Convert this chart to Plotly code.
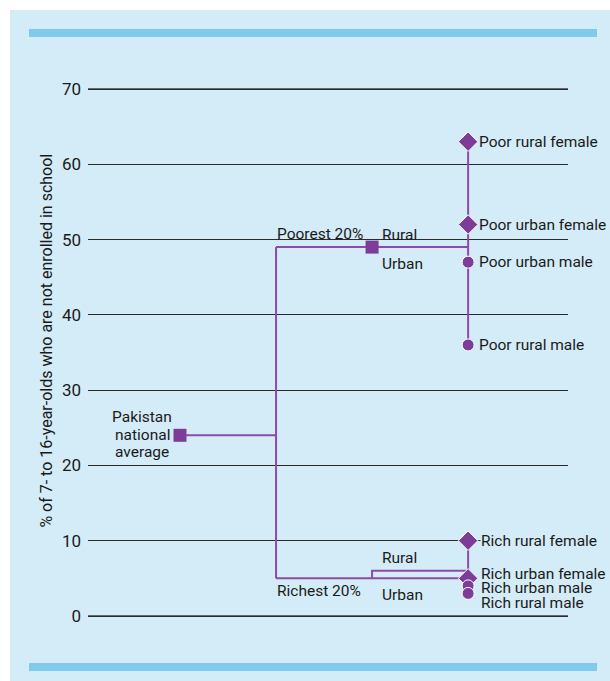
import plotly.graph_objects as go

# ---- data ----
national_label_lines = ["Pakistan", "national", "average"]
national_value = 24
quintile_labels = ["Poorest 20%", "Richest 20%"]
quintile_values = [49, 5]
location_labels = ["Rural", "Urban"]
poor_location_values = [49, 49]
rich_location_values = [6, 5]
poor_group_labels = ["Poor rural female", "Poor urban female", "Poor urban male", "Poor rural male"]
poor_group_values = [63, 52, 47, 36]
rich_group_labels = ["Rich rural female", "Rich urban female", "Rich urban male", "Rich rural male"]
rich_group_values = [10, 5, 4, 3]
group_symbols = ["diamond", "diamond", "circle", "circle"]
y_ticks = [0, 10, 20, 30, 40, 50, 60, 70]

# stage positions on x axis
X_NAT, X_SPLIT, X_Q, X_G = 0, 1, 2, 3

LINE = "#8e4aa8"
MARK = "#7d3c98"
BG = "#d4ecf7"
BAR = "#7fcbeb"
FONT = "Roboto, sans-serif"

fig = go.Figure()

def seg(xs, ys):
    fig.add_trace(go.Scatter(x=xs, y=ys, mode="lines", line=dict(color=LINE, width=2),
                             hoverinfo="skip", showlegend=False))

# national -> split
seg([X_NAT, X_SPLIT], [national_value, national_value])
seg([X_SPLIT, X_SPLIT], [quintile_values[1], quintile_values[0]])
# poorest
seg([X_SPLIT, X_G], [poor_location_values[0], poor_location_values[0]])
seg([X_Q, X_G], [poor_location_values[1], poor_location_values[1]])
# richest
seg([X_SPLIT, X_Q, X_G], [rich_location_values[1], rich_location_values[1], rich_location_values[1]])
seg([X_Q, X_Q, X_G], [quintile_values[1], rich_location_values[0], rich_location_values[0]])
# group verticals
seg([X_G, X_G], [min(poor_group_values), max(poor_group_values)])
seg([X_G, X_G], [min(rich_group_values), max(rich_group_values)])

# squares
fig.add_trace(go.Scatter(x=[X_NAT, X_Q], y=[national_value, quintile_values[0]], mode="markers",
                         marker=dict(symbol="square", size=13, color=MARK, opacity=1),
                         hoverinfo="skip", showlegend=False))
# group markers
for vals in (poor_group_values, rich_group_values):
    fig.add_trace(go.Scatter(x=[X_G] * len(vals), y=vals, mode="markers",
                             marker=dict(symbol=group_symbols, size=[15, 15, 12, 12], color=MARK, opacity=1),
                             hoverinfo="skip", showlegend=False))

ann = []
fs = 15.5
for i, line in enumerate(national_label_lines):
    ann.append(dict(x=X_NAT, y=national_value, text=line, showarrow=False, xanchor="center",
                    xshift=-38, yshift=18 - 17.5 * i, font=dict(size=fs)))
ann.append(dict(x=X_SPLIT, y=quintile_values[0], text=quintile_labels[0], showarrow=False,
                xanchor="left", yanchor="bottom", yshift=2, xshift=-1, font=dict(size=fs)))
ann.append(dict(x=X_SPLIT, y=quintile_values[1], text=quintile_labels[1], showarrow=False,
                xanchor="left", yanchor="top", yshift=-2, xshift=-1, font=dict(size=fs)))
ann.append(dict(x=X_Q, y=poor_location_values[0], text=location_labels[0], showarrow=False,
                xanchor="left", yanchor="bottom", xshift=8, yshift=1, font=dict(size=fs)))
ann.append(dict(x=X_Q, y=poor_location_values[1], text=location_labels[1], showarrow=False,
                xanchor="left", yanchor="top", xshift=8, yshift=-6, font=dict(size=fs)))
ann.append(dict(x=X_Q, y=rich_location_values[0], text=location_labels[0], showarrow=False,
                xanchor="left", yanchor="bottom", xshift=8, yshift=2, font=dict(size=fs)))
ann.append(dict(x=X_Q, y=rich_location_values[1], text=location_labels[1], showarrow=False,
                xanchor="left", yanchor="top", xshift=8, yshift=-6, font=dict(size=fs)))
for lab, v in zip(poor_group_labels, poor_group_values):
    ann.append(dict(x=X_G, y=v, text=lab, showarrow=False, xanchor="left", xshift=9, font=dict(size=fs)))
rich_shifts = [0, 4, -2, -10]
for lab, v, ys in zip(rich_group_labels, rich_group_values, rich_shifts):
    ann.append(dict(x=X_G, y=v, text=lab, showarrow=False, xanchor="left", xshift=12, yshift=ys,
                    bgcolor=BG if ys == 0 else None, borderpad=0, font=dict(size=fs)))
# y axis title
ann.append(dict(xref="paper", yref="paper", x=-0.11, y=0.523,
                text="% of 7- to 16-year-olds who are not enrolled in school",
                textangle=-90, showarrow=False, font=dict(size=16)))

# background panel: plot area x 88..568, y 80..627
def px_x(p):
    return (p - 88) / 480
def px_y(p):
    return (627 - p) / 547

shapes = [
    dict(type="rect", xref="paper", yref="paper", x0=px_x(-5), x1=px_x(10), y0=px_y(690), y1=px_y(-5),
         fillcolor="white", line=dict(width=0), layer="below"),
    dict(type="rect", xref="paper", yref="paper", x0=px_x(-5), x1=px_x(620), y0=px_y(10), y1=px_y(-5),
         fillcolor="white", line=dict(width=0), layer="below"),
    dict(type="rect", xref="paper", yref="paper", x0=px_x(29), x1=px_x(597), y0=px_y(37), y1=px_y(29),
         fillcolor=BAR, line=dict(width=0), layer="below"),
    dict(type="rect", xref="paper", yref="paper", x0=px_x(29), x1=px_x(597), y0=px_y(671), y1=px_y(663),
         fillcolor=BAR, line=dict(width=0), layer="below"),
    dict(type="line", xref="paper", yref="y", x0=0, x1=1, y0=0, y1=0, line=dict(color="#5f6a72", width=2), layer="below"),
    dict(type="line", xref="paper", yref="y", x0=0, x1=1, y0=70, y1=70, line=dict(color="#5f6a72", width=2), layer="below"),
]

fig.update_layout(
    width=610, height=681,
    margin=dict(l=88, r=42, t=80, b=54),
    paper_bgcolor=BG, plot_bgcolor=BG,
    font=dict(family=FONT, size=15.5, color="#1a1a1a"),
    xaxis=dict(range=[-0.958, 4.04], showgrid=False, zeroline=False, showticklabels=False, showline=False),
    yaxis=dict(range=[-1.461, 71.195], tickvals=y_ticks, showgrid=True, gridcolor="#2a2a2a", gridwidth=1,
               zeroline=False, showline=False, ticks="", ticklabelstandoff=6,
               tickfont=dict(size=17)),
    annotations=ann, shapes=shapes,
)

fig.write_html("out.html", config={"displayModeBar": False},
               post_script="document.body.style.margin='0';document.body.style.padding='0';")
